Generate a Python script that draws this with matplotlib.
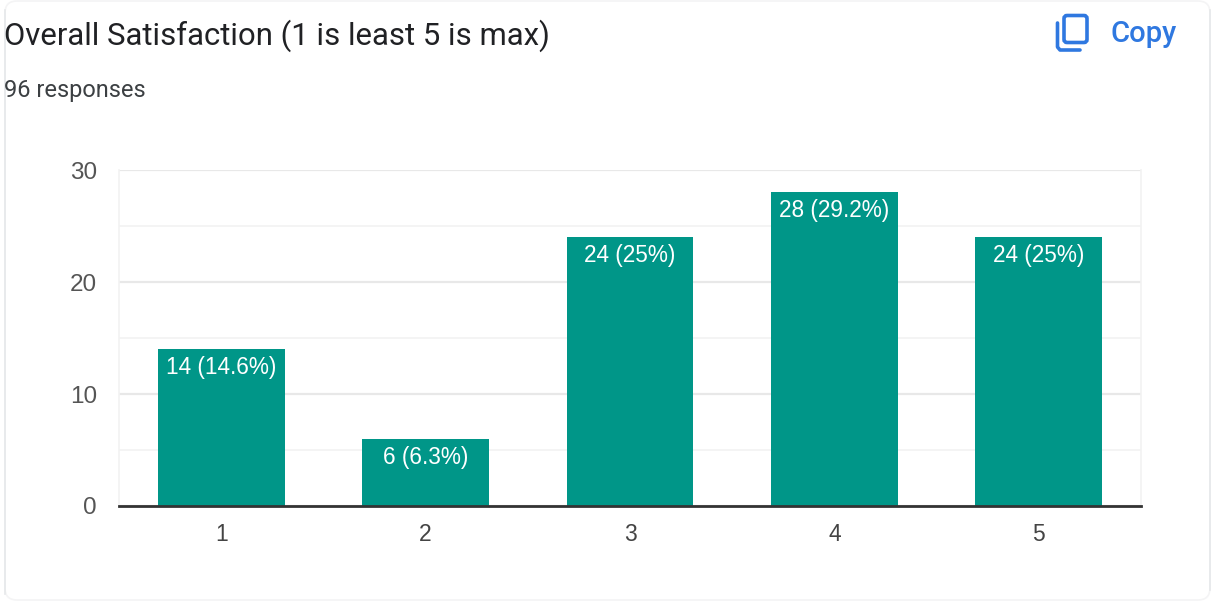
import matplotlib
matplotlib.use("Agg")
import matplotlib.pyplot as plt
from matplotlib.patches import FancyBboxPatch

categories = ["1", "2", "3", "4", "5"]
counts = [14, 6, 24, 28, 24]
bar_labels = ["14 (14.6%)", "6 (6.3%)", "24 (25%)", "28 (29.2%)", "24 (25%)"]
y_ticks = [0, 10, 20, 30]
minor_ticks = [5, 15, 25]

W, H = 1212, 601
BLUE = "#2f78e0"
plt.rcParams["font.family"] = ["Liberation Sans", "DejaVu Sans"]

fig = plt.figure(figsize=(W / 100, H / 100), dpi=100)
fig.patch.set_facecolor("white")

# card outline, in pixels: top and bottom edges are barely visible
bg = fig.add_axes([0, 0, 1, 1])
bg.set_xlim(0, W)
bg.set_ylim(H, 0)
bg.axis("off")
bg.add_patch(FancyBboxPatch((5, 1), 1205, 599, boxstyle="round,pad=0,rounding_size=12",
                            fc="white", ec="#f4f4f5", lw=1.2))
bg.plot([5, 5], [10, 594], color="#e6e8ea", lw=1.2)
bg.plot([1210, 1210], [10, 590], color="#e6e8ea", lw=1.2)

bg.text(4, 36, "Overall Satisfaction (1 is least 5 is max)", fontsize=22.4, color="#202124",
        family=["Roboto", "DejaVu Sans"], va="center", ha="left")
bg.text(4, 90, "96 responses", fontsize=17, color="#3c4043",
        family=["Roboto", "DejaVu Sans"], va="center", ha="left")
bg.text(1111, 34, "Copy", fontsize=21, color=BLUE, fontweight="medium",
        family=["Roboto", "DejaVu Sans"], va="center", ha="left")

# copy icon: two overlapping rounded rectangles
bg.add_patch(FancyBboxPatch((1064, 15.5), 23, 27, boxstyle="round,pad=0,rounding_size=3",
                            fc="white", ec=BLUE, lw=2.6))
bg.plot([1057.5, 1057.5, 1060, 1080], [23, 47, 50, 50], color=BLUE, lw=2.6, solid_capstyle="round")

ax = fig.add_axes([119 / W, 1 - 506 / H, (1141 - 119) / W, (506 - 170) / H])
ax.bar(categories, counts, width=0.62, color="#009688", zorder=3)
ax.set_xlim(-0.5, 4.5)
ax.set_ylim(0, 30)
ax.set_yticks(y_ticks)
ax.set_yticks(minor_ticks, minor=True)
ax.grid(axis="y", which="major", color="#e8e8e8", lw=1.6, zorder=0)
ax.grid(axis="y", which="minor", color="#f2f2f2", lw=1.2, zorder=0)
ax.tick_params(axis="both", which="both", length=0)
ax.tick_params(axis="y", labelsize=17.5, labelcolor="#555555", pad=16)
ax.tick_params(axis="x", labelsize=16.5, labelcolor="#444444", pad=12)
ax.spines["top"].set_visible(False)
for side in ["left", "right"]:
    ax.spines[side].set_color("#f2f2f2")
    ax.spines[side].set_linewidth(1.2)
ax.spines["bottom"].set_color("#333333")
ax.spines["bottom"].set_linewidth(2)
ax.spines["bottom"].set_zorder(5)

for i, (count, label) in enumerate(zip(counts, bar_labels)):
    ax.annotate(label, (i, count), xytext=(0, -5), textcoords="offset points",
                ha="center", va="top", color="white", fontsize=16.3, zorder=4)

fig.savefig("out.png", dpi=100)
